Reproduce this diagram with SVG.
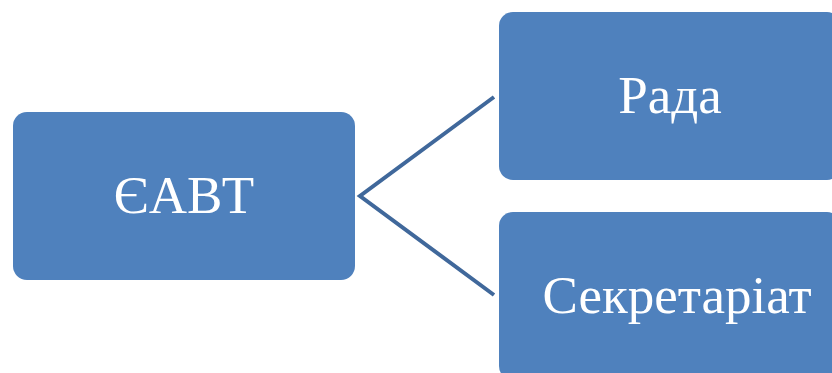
<svg xmlns="http://www.w3.org/2000/svg" width="832" height="373" viewBox="0 0 832 373">
  <style>
    .box { fill: #4F81BD; }
    .lbl { fill: #FFFFFF; font-family: "Liberation Serif", "Times New Roman", serif; font-size: 53px; text-anchor: middle; }
    .conn { fill: none; stroke: #40689B; stroke-width: 4; stroke-linejoin: miter; stroke-linecap: butt; }
  </style>
  <rect width="832" height="373" fill="#FFFFFF"/>
  <g id="connectors">
    <polyline class="conn" points="494,97 360,196 494,295"/>
  </g>
  <g id="node-eavt">
    <rect class="box" x="13" y="112" width="342" height="168" rx="14" ry="14"/>
    <text class="lbl" x="184" y="213">ЄАВТ</text>
  </g>
  <g id="node-rada">
    <rect class="box" x="499" y="12" width="342" height="168" rx="14" ry="14"/>
    <text class="lbl" x="670" y="113">Рада</text>
  </g>
  <g id="node-secretariat">
    <rect class="box" x="499" y="212" width="342" height="168" rx="14" ry="14"/>
    <text class="lbl" x="677" y="313">Секретаріат</text>
  </g>
</svg>
